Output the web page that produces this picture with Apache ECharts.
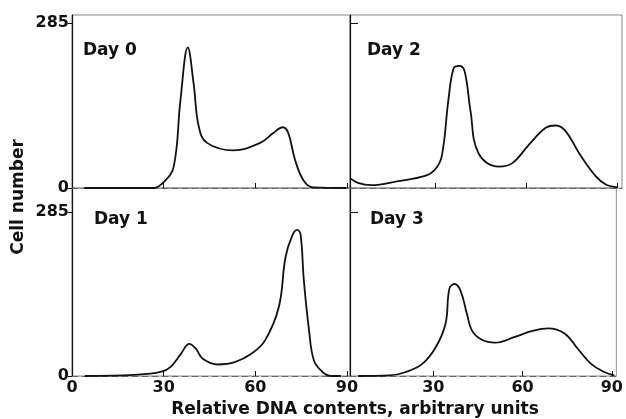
<!DOCTYPE html>
<html>
<head>
<meta charset="utf-8">
<script src="https://cdn.jsdelivr.net/npm/echarts@6/dist/echarts.min.js"></script>
<style>
  html, body { margin: 0; padding: 0; background: #fff; }
  #chart { width: 626px; height: 419px; }
</style>
</head>
<body>
<div id="chart"></div>
<script>
// DNA histograms, [relative DNA content, cell number]
const day0 = [[4, 0], [26.7, 0], [30, 10], [33.3, 37], [35.5, 152], [37.9, 243], [39.8, 181], [41.5, 106],
    [44.2, 78], [52.9, 65], [61.6, 78], [65.9, 95], [69, 105], [70.8, 95], [73, 49], [75.7, 14], [78.9, 1], [89.8, 0]]
const day1 = [[4.2, 0], [20.2, 2], [29, 7], [32.3, 16], [35.7, 39], [38.4, 56], [40.6, 47], [42.8, 30], [47.8, 20],
    [53.3, 24], [58.8, 39], [63.2, 62], [67.7, 120], [69.9, 207], [72.1, 244], [73.7, 254], [74.8, 247], [75.9, 166],
    [77.6, 79], [79.2, 27], [82, 7], [84.8, 0], [88, 0]]
const day2 = [[2, 17], [4.6, 9], [9, 5], [17.9, 12], [26.7, 21], [30, 32], [32.2, 55], [34.4, 153], [36.1, 207],
    [37.9, 211], [39.7, 202], [41.6, 135], [44.3, 60], [51, 37], [55.4, 43], [60.9, 75], [66.4, 104], [69.7, 108],
    [73, 98], [77.4, 60], [82.9, 20], [86.2, 6], [90.1, 1]]
const day3 = [[4.7, 0], [15.2, 1], [20.8, 7], [26.3, 21], [30.8, 50], [34.1, 91], [35.4, 152], [37.1, 160],
    [39.1, 149], [41.3, 108], [43, 79], [46.3, 63], [50.8, 58], [57.4, 68], [63, 78], [68.6, 83], [74.1, 74],
    [78.6, 47], [83, 21], [87.4, 7], [90.8, 1]]

const xTicksLeft = [0, 30, 60, 90]
const xTicksRight = [30, 60, 90]
const yTicks = [0, 285]
const panelNames = ['Day 0', 'Day 2', 'Day 1', 'Day 3']

const font = 'DejaVu Sans'
const ink = '#111'

const chart = echarts.init(document.getElementById('chart'))

const panels = [
    { left: 72, top: 15, width: 278, height: 173, xmin: 0, xmax: 91, ymax: 299, data: day0, xLabels: false, yLabels: true, xt: xTicksLeft },
    { left: 350, top: 15, width: 272, height: 173, xmin: 2, xmax: 91.5, ymax: 299, data: day2, xLabels: false, yLabels: false, xt: xTicksRight },
    { left: 72, top: 188, width: 278, height: 188, xmin: 0, xmax: 91, ymax: 327, data: day1, xLabels: true, yLabels: true, xt: xTicksLeft },
    { left: 350, top: 188, width: 270, height: 188, xmin: 2, xmax: 91.5, ymax: 327, data: day3, xLabels: true, yLabels: false, xt: xTicksRight }
]

chart.setOption({
    animation: false,
    backgroundColor: '#fff',
    title: [
        { text: panelNames[0], left: 83, top: 42 },
        { text: panelNames[1], left: 367, top: 42 },
        { text: panelNames[2], left: 94, top: 211 },
        { text: panelNames[3], left: 370, top: 211 }
    ].map(t => Object.assign(t, {
        padding: 0,
        textStyle: { fontFamily: font, fontSize: 17, fontWeight: 'bold', color: ink }
    })),
    grid: panels.map(p => ({
        left: p.left,
        top: p.top,
        width: p.width,
        height: p.height,
        show: true,
        borderColor: '#888',
        borderWidth: 1,
        backgroundColor: 'transparent'
    })),
    xAxis: panels.map((p, i) => ({
        type: 'value',
        gridIndex: i,
        min: p.xmin,
        max: p.xmax,
        axisLine: { show: true, onZero: false, lineStyle: { color: '#666', width: 1, type: [6, 4] } },
        axisTick: { show: true, inside: true, length: 5, customValues: p.xt, lineStyle: { color: ink } },
        axisLabel: {
            show: p.xLabels,
            customValues: p.xt,
            margin: 4,
            fontFamily: font,
            fontSize: 16,
            fontWeight: 'bold',
            color: ink
        },
        splitLine: { show: false }
    })),
    yAxis: panels.map((p, i) => ({
        type: 'value',
        gridIndex: i,
        min: 0,
        max: p.ymax,
        axisLine: { show: true, lineStyle: { color: ink, width: 1.2 } },
        axisTick: { show: true, inside: !p.yLabels, length: p.yLabels ? 4 : 8, customValues: p.yLabels ? yTicks : [285], lineStyle: { color: ink } },
        axisLabel: {
            show: p.yLabels,
            customValues: yTicks,
            margin: 3,
            fontFamily: font,
            fontSize: 16,
            fontWeight: 'bold',
            color: ink
        },
        splitLine: { show: false }
    })),
    graphic: [
        {
            type: 'text',
            x: 19,
            y: 197,
            rotation: Math.PI / 2,
            style: {
                text: 'Cell number',
                fontFamily: font,
                fontSize: 17,
                fontWeight: 'bold',
                fill: ink,
                align: 'center',
                verticalAlign: 'middle'
            }
        },
        {
            type: 'text',
            x: 355,
            y: 410,
            style: {
                text: 'Relative DNA contents, arbitrary units',
                fontFamily: font,
                fontSize: 17,
                fontWeight: 'bold',
                fill: ink,
                align: 'center',
                verticalAlign: 'middle'
            }
        }
    ],
    series: panels.map((p, i) => ({
        type: 'line',
        xAxisIndex: i,
        yAxisIndex: i,
        data: p.data,
        smooth: 0.4,
        showSymbol: false,
        lineStyle: { color: ink, width: 1.8 }
    }))
})
</script>
</body>
</html>
